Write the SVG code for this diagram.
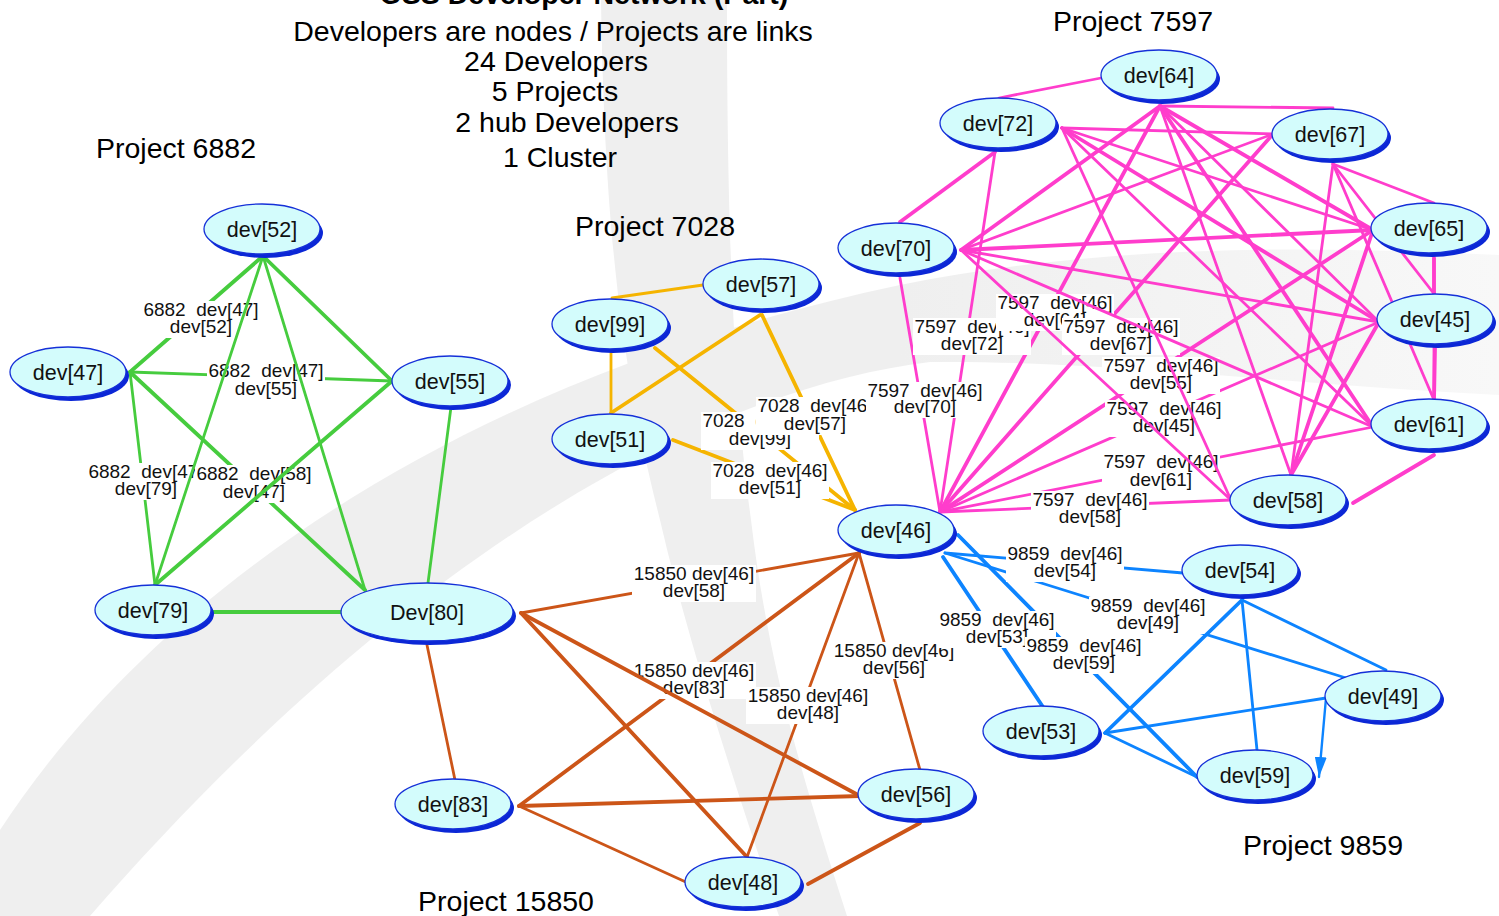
<svg xmlns="http://www.w3.org/2000/svg" width="1499" height="916" viewBox="0 0 1499 916">
<defs>
<style>
.bgs{fill:#efefef}
.e{fill:none;stroke-linecap:round}
.g{stroke:#46cc3e}.y{stroke:#f5b400}.p{stroke:#ff3dcc}.b{stroke:#0d84ff}.r{stroke:#cc5518}
.w2{stroke-width:2.8}.w3{stroke-width:3.8}
.lb{fill:#ffffff}
.el{font-family:"Liberation Sans",Arial,Helvetica,sans-serif;font-size:19px;fill:#111;text-anchor:middle;white-space:pre}
.sh{fill:#0b27d6}
.nd{fill:#d3fcfc;stroke:#1530d8;stroke-width:1.3}
.nt{font-family:"Liberation Sans",Arial,Helvetica,sans-serif;font-size:21.5px;fill:#111;text-anchor:middle}
.tt{font-family:"Liberation Sans",Arial,Helvetica,sans-serif;font-size:28.5px;fill:#000;text-anchor:middle}
</style>
<linearGradient id="fade" x1="0" y1="0" x2="1" y2="0">
<stop offset="0" stop-color="#efefef"/>
<stop offset="0.6" stop-color="#efefef"/>
<stop offset="1" stop-color="#f8f8f8"/>
</linearGradient>
<marker id="arr" markerUnits="userSpaceOnUse" markerWidth="20" markerHeight="12" refX="20" refY="6" orient="auto" viewBox="0 0 20 12">
<path d="M0,0 L20,6 L0,12 Z" fill="#0d84ff"/>
</marker>
</defs>
<rect width="1499" height="916" fill="#ffffff"/>
<g id="background">
<path class="bgs" d="M601,0 L727,0 C727,250 735,400 751,520 C770,680 810,800 847,916 L779,916 C740,800 690,650 660,520 C625,380 605,250 601,0 Z"/>
<path fill="url(#fade)" d="M0,830 C150,600 450,380 900,285 C1100,245 1300,245 1499,255 L1499,395 C1300,385 1100,360 930,362 C700,390 400,560 90,916 L0,916 Z"/>
</g>
<g id="titles">
<text class="tt" x="584" y="4" font-weight="bold">OSS Developer Network (Part)</text>
<text class="tt" x="553" y="41">Developers are nodes / Projects are links</text>
<text class="tt" x="556" y="71">24 Developers</text>
<text class="tt" x="555" y="101">5 Projects</text>
<text class="tt" x="567" y="132">2 hub Developers</text>
<text class="tt" x="560" y="167">1 Cluster</text>
<text class="tt" x="176" y="158">Project 6882</text>
<text class="tt" x="655" y="236">Project 7028</text>
<text class="tt" x="1133" y="31">Project 7597</text>
<text class="tt" x="1323" y="855">Project 9859</text>
<text class="tt" x="506" y="911">Project 15850</text>
</g>
<g id="connectors" xml:space="preserve">
<line class="e g w3" x1="130" y1="372" x2="263" y2="256"/>
<line class="e g w2" x1="130" y1="372" x2="392" y2="381"/>
<line class="e g w2" x1="130" y1="372" x2="155" y2="585"/>
<line class="e g w3" x1="130" y1="372" x2="365" y2="590"/>
<rect class="lb" x="142" y="301" width="118" height="37"/>
<text class="el" x="201" y="316">6882  dev[47]<tspan x="201" y="333">dev[52]</tspan></text>
<rect class="lb" x="207" y="362" width="118" height="38"/>
<text class="el" x="266" y="377">6882  dev[47]<tspan x="266" y="395">dev[55]</tspan></text>
<rect class="lb" x="87" y="463" width="118" height="37"/>
<text class="el" x="146" y="478">6882  dev[47]<tspan x="146" y="495">dev[79]</tspan></text>
<rect class="lb" x="195" y="465" width="118" height="38"/>
<text class="el" x="254" y="480">6882  dev[58]<tspan x="254" y="498">dev[47]</tspan></text>
<line class="e g w3" x1="263" y1="256" x2="392" y2="381"/>
<line class="e g w2" x1="263" y1="256" x2="155" y2="585"/>
<line class="e g w2" x1="263" y1="256" x2="365" y2="590"/>
<line class="e g w3" x1="392" y1="381" x2="155" y2="585"/>
<line class="e g w2" x1="451" y1="407" x2="428" y2="583"/>
<line class="e g w3" x1="213" y1="612" x2="341" y2="612"/>
<line class="e y w2" x1="612" y1="298" x2="703" y2="285"/>
<line class="e y w2" x1="611" y1="352" x2="611" y2="413"/>
<line class="e y w3" x1="760" y1="315" x2="611" y2="413"/>
<line class="e y w3" x1="655" y1="348" x2="855" y2="510"/>
<line class="e y w3" x1="762" y1="315" x2="855" y2="510"/>
<line class="e y w3" x1="673" y1="440" x2="855" y2="510"/>
<rect class="lb" x="701" y="412" width="118" height="38"/>
<text class="el" x="760" y="427">7028  dev[46]<tspan x="760" y="445">dev[99]</tspan></text>
<rect class="lb" x="756" y="397" width="118" height="38"/>
<text class="el" x="815" y="412">7028  dev[46]<tspan x="815" y="430">dev[57]</tspan></text>
<rect class="lb" x="711" y="462" width="118" height="37"/>
<text class="el" x="770" y="477">7028  dev[46]<tspan x="770" y="494">dev[51]</tspan></text>
<line class="e r w2" x1="521" y1="613" x2="859" y2="553"/>
<line class="e r w3" x1="859" y1="553" x2="519" y2="806"/>
<line class="e r w2" x1="859" y1="553" x2="920" y2="770"/>
<line class="e r w2" x1="859" y1="553" x2="747" y2="857"/>
<rect class="lb" x="632" y="565" width="124" height="37"/>
<text class="el" x="694" y="580">15850 dev[46]<tspan x="694" y="597">dev[58]</tspan></text>
<rect class="lb" x="632" y="662" width="124" height="37"/>
<text class="el" x="694" y="677">15850 dev[46]<tspan x="694" y="694">dev[83]</tspan></text>
<rect class="lb" x="746" y="687" width="124" height="37"/>
<text class="el" x="808" y="702">15850 dev[46]<tspan x="808" y="719">dev[48]</tspan></text>
<rect class="lb" x="832" y="642" width="124" height="37"/>
<text class="el" x="894" y="657">15850 dev[46]<tspan x="894" y="674">dev[56]</tspan></text>
<line class="e r w2" x1="427" y1="645" x2="455" y2="780"/>
<line class="e r w3" x1="521" y1="613" x2="860" y2="796"/>
<line class="e r w3" x1="521" y1="613" x2="747" y2="857"/>
<line class="e r w3" x1="519" y1="806" x2="860" y2="796"/>
<line class="e r w2" x1="519" y1="806" x2="688" y2="883"/>
<line class="e r w3" x1="920" y1="823" x2="808" y2="884"/>
<line class="e p w3" x1="940" y1="512" x2="1160" y2="106"/>
<line class="e p w2" x1="940" y1="512" x2="995" y2="152"/>
<line class="e p w3" x1="940" y1="512" x2="1273" y2="134"/>
<line class="e p w2" x1="940" y1="512" x2="900" y2="278"/>
<line class="e p w3" x1="940" y1="512" x2="1373" y2="230"/>
<line class="e p w2" x1="940" y1="512" x2="1379" y2="322"/>
<line class="e p w2" x1="940" y1="512" x2="1373" y2="427"/>
<line class="e p w2" x1="940" y1="512" x2="1231" y2="500"/>
<rect class="lb" x="866" y="382" width="118" height="36"/>
<text class="el" x="925" y="397">7597  dev[46]<tspan x="925" y="413">dev[70]</tspan></text>
<rect class="lb" x="913" y="318" width="118" height="37"/>
<text class="el" x="972" y="333">7597  dev[46]<tspan x="972" y="350">dev[72]</tspan></text>
<rect class="lb" x="996" y="294" width="118" height="37"/>
<text class="el" x="1055" y="309">7597  dev[46]<tspan x="1055" y="326">dev[64]</tspan></text>
<rect class="lb" x="1062" y="318" width="118" height="37"/>
<text class="el" x="1121" y="333">7597  dev[46]<tspan x="1121" y="350">dev[67]</tspan></text>
<rect class="lb" x="1102" y="357" width="118" height="37"/>
<text class="el" x="1161" y="372">7597  dev[46]<tspan x="1161" y="389">dev[55]</tspan></text>
<rect class="lb" x="1105" y="400" width="118" height="37"/>
<text class="el" x="1164" y="415">7597  dev[46]<tspan x="1164" y="432">dev[45]</tspan></text>
<rect class="lb" x="1102" y="453" width="118" height="38"/>
<text class="el" x="1161" y="468">7597  dev[46]<tspan x="1161" y="486">dev[61]</tspan></text>
<rect class="lb" x="1031" y="491" width="118" height="37"/>
<text class="el" x="1090" y="506">7597  dev[46]<tspan x="1090" y="523">dev[58]</tspan></text>
<line class="e p w2" x1="1101" y1="78" x2="999" y2="98"/>
<line class="e p w2" x1="1160" y1="106" x2="1333" y2="108"/>
<line class="e p w3" x1="1160" y1="106" x2="961" y2="250"/>
<line class="e p w3" x1="1160" y1="106" x2="1373" y2="230"/>
<line class="e p w2" x1="1160" y1="106" x2="1379" y2="322"/>
<line class="e p w3" x1="1160" y1="106" x2="1373" y2="427"/>
<line class="e p w2" x1="1160" y1="106" x2="1291" y2="475"/>
<line class="e p w2" x1="1062" y1="128" x2="1273" y2="134"/>
<line class="e p w3" x1="995" y1="152" x2="900" y2="222"/>
<line class="e p w2" x1="1062" y1="128" x2="1373" y2="230"/>
<line class="e p w3" x1="1062" y1="128" x2="1379" y2="322"/>
<line class="e p w2" x1="1062" y1="128" x2="1373" y2="427"/>
<line class="e p w2" x1="1062" y1="128" x2="1231" y2="500"/>
<line class="e p w2" x1="1273" y1="134" x2="961" y2="250"/>
<line class="e p w2" x1="1333" y1="164" x2="1434" y2="203"/>
<line class="e p w2" x1="1333" y1="164" x2="1435" y2="295"/>
<line class="e p w2" x1="1333" y1="164" x2="1434" y2="400"/>
<line class="e p w2" x1="1333" y1="164" x2="1291" y2="475"/>
<line class="e p w3" x1="961" y1="250" x2="1373" y2="230"/>
<line class="e p w2" x1="961" y1="250" x2="1379" y2="322"/>
<line class="e p w2" x1="961" y1="250" x2="1373" y2="427"/>
<line class="e p w2" x1="961" y1="250" x2="1231" y2="500"/>
<line class="e p w3" x1="1434" y1="258" x2="1434" y2="295"/>
<line class="e p w2" x1="1434" y1="258" x2="1434" y2="400"/>
<line class="e p w3" x1="1373" y1="230" x2="1291" y2="475"/>
<line class="e p w3" x1="1435" y1="348" x2="1434" y2="400"/>
<line class="e p w3" x1="1379" y1="322" x2="1291" y2="475"/>
<line class="e p w3" x1="1434" y1="455" x2="1353" y2="503"/>
<line class="e b w2" x1="945" y1="553" x2="1183" y2="573"/>
<line class="e b w2" x1="945" y1="553" x2="1346" y2="678"/>
<line class="e b w3" x1="943" y1="557" x2="1043" y2="707"/>
<line class="e b w3" x1="958" y1="535" x2="1197" y2="777"/>
<rect class="lb" x="1006" y="545" width="118" height="37"/>
<text class="el" x="1065" y="560">9859  dev[46]<tspan x="1065" y="577">dev[54]</tspan></text>
<rect class="lb" x="1089" y="597" width="118" height="37"/>
<text class="el" x="1148" y="612">9859  dev[46]<tspan x="1148" y="629">dev[49]</tspan></text>
<rect class="lb" x="938" y="611" width="118" height="37"/>
<text class="el" x="997" y="626">9859  dev[46]<tspan x="997" y="643">dev[53]</tspan></text>
<rect class="lb" x="1025" y="637" width="118" height="37"/>
<text class="el" x="1084" y="652">9859  dev[46]<tspan x="1084" y="669">dev[59]</tspan></text>
<line class="e b w2" x1="1242" y1="600" x2="1386" y2="670"/>
<line class="e b w3" x1="1242" y1="600" x2="1105" y2="733"/>
<line class="e b w2" x1="1242" y1="600" x2="1257" y2="750"/>
<line class="e b w2" x1="1326" y1="698" x2="1105" y2="733"/>
<line class="e b" stroke-width="2.4" x1="1326" y1="698" x2="1319" y2="777" marker-end="url(#arr)"/>
<line class="e b w2" x1="1105" y1="733" x2="1197" y2="777"/>
</g>
<g id="dev52"><ellipse class="sh" cx="265" cy="233" rx="58" ry="25"/><ellipse class="nd" cx="262" cy="229" rx="58" ry="25"/><text class="nt" x="262" y="237">dev[52]</text></g>
<g id="dev47"><ellipse class="sh" cx="71" cy="376" rx="58" ry="25"/><ellipse class="nd" cx="68" cy="372" rx="58" ry="25"/><text class="nt" x="68" y="380">dev[47]</text></g>
<g id="dev55"><ellipse class="sh" cx="453" cy="385" rx="58" ry="25"/><ellipse class="nd" cx="450" cy="381" rx="58" ry="25"/><text class="nt" x="450" y="389">dev[55]</text></g>
<g id="dev79"><ellipse class="sh" cx="156" cy="614" rx="58" ry="25"/><ellipse class="nd" cx="153" cy="610" rx="58" ry="25"/><text class="nt" x="153" y="618">dev[79]</text></g>
<g id="Dev80"><ellipse class="sh" cx="430" cy="616" rx="86" ry="29"/><ellipse class="nd" cx="427" cy="612" rx="86" ry="29"/><text class="nt" x="427" y="620">Dev[80]</text></g>
<g id="dev99"><ellipse class="sh" cx="613" cy="328" rx="58" ry="25"/><ellipse class="nd" cx="610" cy="324" rx="58" ry="25"/><text class="nt" x="610" y="332">dev[99]</text></g>
<g id="dev57"><ellipse class="sh" cx="764" cy="288" rx="58" ry="25"/><ellipse class="nd" cx="761" cy="284" rx="58" ry="25"/><text class="nt" x="761" y="292">dev[57]</text></g>
<g id="dev51"><ellipse class="sh" cx="613" cy="443" rx="58" ry="25"/><ellipse class="nd" cx="610" cy="439" rx="58" ry="25"/><text class="nt" x="610" y="447">dev[51]</text></g>
<g id="dev46"><ellipse class="sh" cx="899" cy="534" rx="58" ry="25"/><ellipse class="nd" cx="896" cy="530" rx="58" ry="25"/><text class="nt" x="896" y="538">dev[46]</text></g>
<g id="dev64"><ellipse class="sh" cx="1162" cy="79" rx="58" ry="25"/><ellipse class="nd" cx="1159" cy="75" rx="58" ry="25"/><text class="nt" x="1159" y="83">dev[64]</text></g>
<g id="dev72"><ellipse class="sh" cx="1001" cy="127" rx="58" ry="25"/><ellipse class="nd" cx="998" cy="123" rx="58" ry="25"/><text class="nt" x="998" y="131">dev[72]</text></g>
<g id="dev67"><ellipse class="sh" cx="1333" cy="138" rx="58" ry="25"/><ellipse class="nd" cx="1330" cy="134" rx="58" ry="25"/><text class="nt" x="1330" y="142">dev[67]</text></g>
<g id="dev70"><ellipse class="sh" cx="899" cy="252" rx="58" ry="25"/><ellipse class="nd" cx="896" cy="248" rx="58" ry="25"/><text class="nt" x="896" y="256">dev[70]</text></g>
<g id="dev65"><ellipse class="sh" cx="1432" cy="232" rx="58" ry="25"/><ellipse class="nd" cx="1429" cy="228" rx="58" ry="25"/><text class="nt" x="1429" y="236">dev[65]</text></g>
<g id="dev45"><ellipse class="sh" cx="1438" cy="323" rx="58" ry="25"/><ellipse class="nd" cx="1435" cy="319" rx="58" ry="25"/><text class="nt" x="1435" y="327">dev[45]</text></g>
<g id="dev61"><ellipse class="sh" cx="1432" cy="428" rx="58" ry="25"/><ellipse class="nd" cx="1429" cy="424" rx="58" ry="25"/><text class="nt" x="1429" y="432">dev[61]</text></g>
<g id="dev58"><ellipse class="sh" cx="1291" cy="504" rx="58" ry="25"/><ellipse class="nd" cx="1288" cy="500" rx="58" ry="25"/><text class="nt" x="1288" y="508">dev[58]</text></g>
<g id="dev54"><ellipse class="sh" cx="1243" cy="574" rx="58" ry="25"/><ellipse class="nd" cx="1240" cy="570" rx="58" ry="25"/><text class="nt" x="1240" y="578">dev[54]</text></g>
<g id="dev49"><ellipse class="sh" cx="1386" cy="700" rx="58" ry="25"/><ellipse class="nd" cx="1383" cy="696" rx="58" ry="25"/><text class="nt" x="1383" y="704">dev[49]</text></g>
<g id="dev53"><ellipse class="sh" cx="1044" cy="735" rx="58" ry="25"/><ellipse class="nd" cx="1041" cy="731" rx="58" ry="25"/><text class="nt" x="1041" y="739">dev[53]</text></g>
<g id="dev59"><ellipse class="sh" cx="1258" cy="779" rx="58" ry="25"/><ellipse class="nd" cx="1255" cy="775" rx="58" ry="25"/><text class="nt" x="1255" y="783">dev[59]</text></g>
<g id="dev83"><ellipse class="sh" cx="456" cy="808" rx="58" ry="25"/><ellipse class="nd" cx="453" cy="804" rx="58" ry="25"/><text class="nt" x="453" y="812">dev[83]</text></g>
<g id="dev56"><ellipse class="sh" cx="919" cy="798" rx="58" ry="25"/><ellipse class="nd" cx="916" cy="794" rx="58" ry="25"/><text class="nt" x="916" y="802">dev[56]</text></g>
<g id="dev48"><ellipse class="sh" cx="746" cy="886" rx="58" ry="25"/><ellipse class="nd" cx="743" cy="882" rx="58" ry="25"/><text class="nt" x="743" y="890">dev[48]</text></g>
</svg>
